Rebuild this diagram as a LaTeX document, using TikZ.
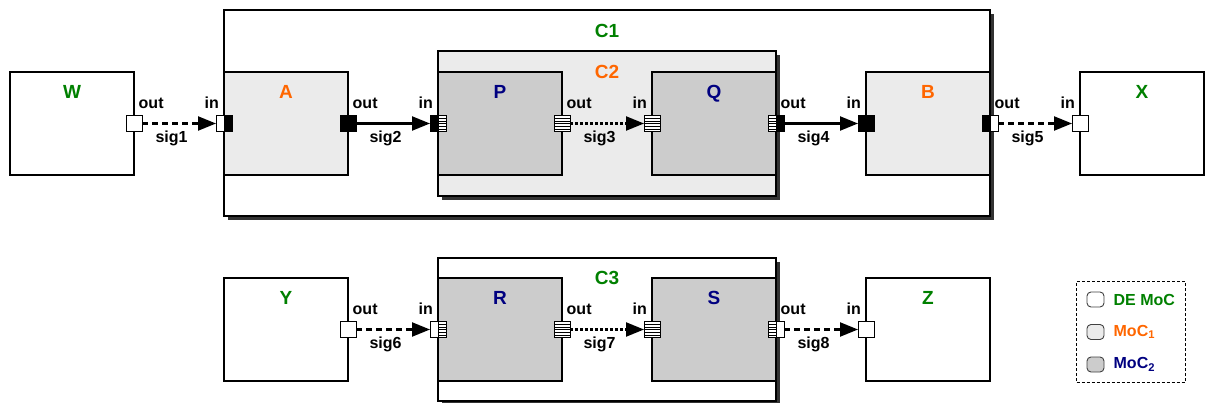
\documentclass[tikz,border=0pt]{standalone}
\usepackage{fontspec}
\setmainfont{Liberation Sans}
\usepackage{tikz}
\usetikzlibrary{arrows.meta,positioning,calc,fit,backgrounds,shadows}
\definecolor{degreen}{HTML}{008000}
\definecolor{mocorange}{HTML}{FF6600}
\definecolor{mocnavy}{HTML}{000080}
\definecolor{moconefill}{HTML}{EBEBEB}
\definecolor{moctwofill}{HTML}{CCCCCC}
\definecolor{shadowgray}{HTML}{333333}
\tikzset{
    actor/.style={draw=black,line width=1.2pt,minimum width=124pt,minimum height=103pt,
      inner sep=0pt,outer sep=0pt},
    deactor/.style={actor,fill=white},
    moconeactor/.style={actor,fill=moconefill},
    moctwoactor/.style={actor,fill=moctwofill},
    container/.style={draw=black,line width=1.2pt,inner sep=0pt,outer sep=0pt,
      drop shadow={fill=shadowgray,opacity=1,shadow xshift=4pt,shadow yshift=-4pt}},
    boxname/.style={font=\fontsize{19}{22}\selectfont\bfseries,inner sep=0pt,text depth=0pt},
    port/.style={draw=black,line width=0.9pt,minimum size=16pt,inner sep=0pt,outer sep=0pt},
    halfport/.style={port,minimum width=8pt},
    deport/.style={fill=white},
    moconeport/.style={fill=black},
    moctwoport/.style={fill=white,path picture={
        \foreach \k in {1,...,5}
          \draw[line width=0.6pt]
            ($(path picture bounding box.north west)!\k/6!(path picture bounding box.south west)$) --
            ($(path picture bounding box.north east)!\k/6!(path picture bounding box.south east)$);}},
    portlabel/.style={font=\fontsize{16}{19}\selectfont\bfseries,inner sep=0pt},
    siglabel/.style={portlabel,anchor=base,yshift=-19pt,pos=0.4},
    sigarrow/.style={-{Triangle[length=18pt,width=14pt]},line width=2.2pt},
    dashsig/.style={sigarrow,dash pattern=on 6pt off 4pt},
    dotsig/.style={sigarrow,dash pattern=on 2.5pt off 2.5pt},
    legendkey/.style={draw=black!75,line width=0.9pt,rounded corners=4pt,
      minimum width=17pt,minimum height=15pt,inner sep=0pt},
    legendtext/.style={font=\fontsize{16}{19}\selectfont\bfseries,inner sep=0pt}
}
\begin{document}
\begin{tikzpicture}[x=1pt,y=-1pt]
  \useasboundingbox (0,0) rectangle (1205,403);
  % actors, top row and bottom row
  \foreach \nm/\kind/\col/\xx in {W/deactor/degreen/72,A/moconeactor/mocorange/286,
      P/moctwoactor/mocnavy/500,Q/moctwoactor/mocnavy/714,
      B/moconeactor/mocorange/928,X/deactor/degreen/1142} {
    \node[\kind] (\nm) at (\xx,123.5) {};
    \node[boxname,text=\col] (\nm-name) at ([yshift=-20pt]\nm.north) {\nm};
  }
  \foreach \nm/\kind/\col/\xx in {Y/deactor/degreen/286,R/moctwoactor/mocnavy/500,
      S/moctwoactor/mocnavy/714,Z/deactor/degreen/928} {
    \node[\kind] (\nm) at (\xx,329.5) {};
    \node[boxname,text=\col] (\nm-name) at ([yshift=-20pt]\nm.north) {\nm};
  }

  % composite actors behind their parts
  \begin{scope}[on background layer]
    \node[container,fill=white,fit={([yshift=62pt]A.north west) ([yshift=-41pt]B.south east)}] (C1) {};
    \node[container,fill=moconefill,fit={([yshift=21pt]P.north west) ([yshift=-21pt]Q.south east)}] (C2) {};
    \node[container,fill=white,fit={([yshift=20pt]R.north west) ([yshift=-20pt]S.south east)}] (C3) {};
  \end{scope}
  \node[boxname,text=degreen] (C1-name) at ([yshift=-21pt]C1.north) {C1};
  \node[boxname,text=mocorange] (C2-name) at ([yshift=-21pt]C2.north) {C2};
  \node[boxname,text=degreen] (C3-name) at ([yshift=-20pt]C3.north) {C3};

  % ports of the top row
  \node[port,deport] (Wout) at (W.east) {};
  \node[halfport,deport,anchor=east] (C1in) at (A.west) {};
  \node[halfport,moconeport,anchor=west] (Ain) at (A.west) {};
  \node[port,moconeport] (Aout) at (A.east) {};
  \node[halfport,moconeport,anchor=east] (C2in) at (P.west) {};
  \node[halfport,moctwoport,anchor=west] (Pin) at (P.west) {};
  \node[port,moctwoport] (Pout) at (P.east) {};
  \node[port,moctwoport] (Qin) at (Q.west) {};
  \node[halfport,moctwoport,anchor=east] (Qout) at (Q.east) {};
  \node[halfport,moconeport,anchor=west] (C2out) at (Q.east) {};
  \node[port,moconeport] (Bin) at (B.west) {};
  \node[halfport,moconeport,anchor=east] (Bout) at (B.east) {};
  \node[halfport,deport,anchor=west] (C1out) at (B.east) {};
  \node[port,deport] (Xin) at (X.west) {};

  % ports of the bottom row
  \node[port,deport] (Yout) at (Y.east) {};
  \node[halfport,deport,anchor=east] (C3in) at (R.west) {};
  \node[halfport,moctwoport,anchor=west] (Rin) at (R.west) {};
  \node[port,moctwoport] (Rout) at (R.east) {};
  \node[port,moctwoport] (Sin) at (S.west) {};
  \node[halfport,moctwoport,anchor=east] (Sout) at (S.east) {};
  \node[halfport,deport,anchor=west] (C3out) at (S.east) {};
  \node[port,deport] (Zin) at (Z.west) {};

  \foreach \nm in {W,A,P,Q,B,Y,R,S}
    \node[portlabel,anchor=base west] (\nm-outlbl) at ([xshift=4.5pt,yshift=15pt]\nm.east) {out};
  \foreach \nm in {A,P,Q,B,X,R,S,Z}
    \node[portlabel,anchor=base east] (\nm-inlbl) at ([xshift=-5pt,yshift=15pt]\nm.west) {in};

  % signals
  \draw[dashsig] (Wout) -- node[siglabel] (sig1) {sig1} (C1in);
  \draw[sigarrow] (Aout) -- node[siglabel] (sig2) {sig2} (C2in);
  \draw[dotsig] (Pout) -- node[siglabel] (sig3) {sig3} (Qin);
  \draw[sigarrow] (C2out) -- node[siglabel] (sig4) {sig4} (Bin);
  \draw[dashsig] (C1out) -- node[siglabel] (sig5) {sig5} (Xin);
  \draw[dashsig] (Yout) -- node[siglabel] (sig6) {sig6} (C3in);
  \draw[dotsig] (Rout) -- node[siglabel] (sig7) {sig7} (Sin);
  \draw[dashsig] (C3out) -- node[siglabel] (sig8) {sig8} (Zin);

  % legend
  \node[legendkey,fill=white] (keyDE) at (1095.5,299.5) {};
  \node[legendkey,fill=moconefill] (keyOne) at (1095.5,332) {};
  \node[legendkey,fill=moctwofill] (keyTwo) at (1095.5,364.5) {};
  \node[legendtext,text=degreen,right=9pt of keyDE] (txtDE) {DE MoC};
  \node[legendtext,text=mocorange,right=9pt of keyOne] (txtOne) {MoC\textsubscript{1}};
  \node[legendtext,text=mocnavy,right=9pt of keyTwo] (txtTwo) {MoC\textsubscript{2}};
  \node[draw,line width=0.8pt,dash pattern=on 3pt off 2pt,inner sep=10pt,
    fit=(keyDE)(keyTwo)(txtDE)] (legend) {};
\end{tikzpicture}
\end{document}
